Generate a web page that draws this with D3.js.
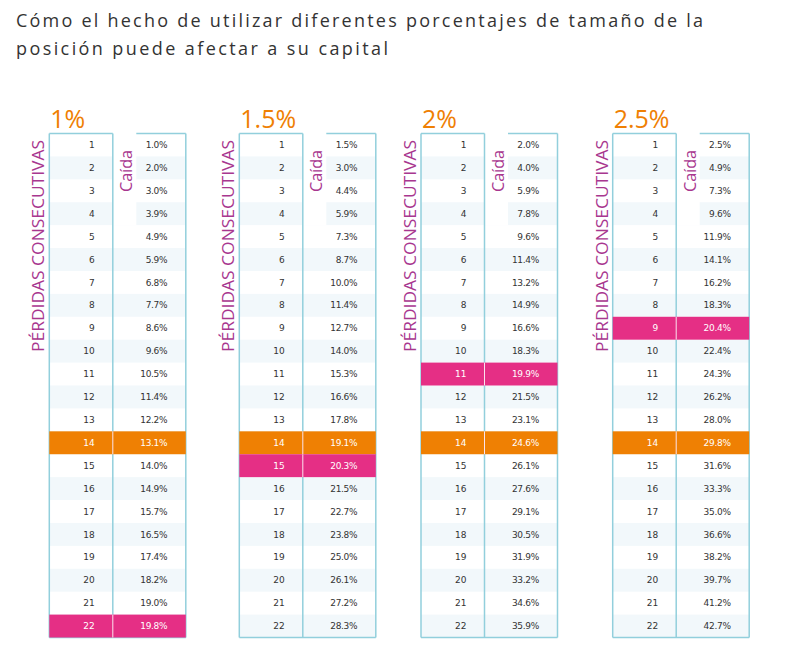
<!DOCTYPE html>
<html><head><meta charset="utf-8">
<script src="https://cdn.jsdelivr.net/npm/d3@7"></script>
<style>
html,body{margin:0;padding:0;background:#fff;}
svg{display:block;}
</style></head>
<body>
<script>
// ---- data ----
const titleLines = ["Cómo el hecho de utilizar diferentes porcentajes de tamaño de la", "posición puede afectar a su capital"];
const positionSizes = ["1%", "1.5%", "2%", "2.5%"];
const consecutiveLosses = [1,2,3,4,5,6,7,8,9,10,11,12,13,14,15,16,17,18,19,20,21,22];
const drawdown1 = [1.0,2.0,3.0,3.9,4.9,5.9,6.8,7.7,8.6,9.6,10.5,11.4,12.2,13.1,14.0,14.9,15.7,16.5,17.4,18.2,19.0,19.8];
const drawdown15 = [1.5,3.0,4.4,5.9,7.3,8.7,10.0,11.4,12.7,14.0,15.3,16.6,17.8,19.1,20.3,21.5,22.7,23.8,25.0,26.1,27.2,28.3];
const drawdown2 = [2.0,4.0,5.9,7.8,9.6,11.4,13.2,14.9,16.6,18.3,19.9,21.5,23.1,24.6,26.1,27.6,29.1,30.5,31.9,33.2,34.6,35.9];
const drawdown25 = [2.5,4.9,7.3,9.6,11.9,14.1,16.2,18.3,20.4,22.4,24.3,26.2,28.0,29.8,31.6,33.3,35.0,36.6,38.2,39.7,41.2,42.7];
const drawdowns = [drawdown1, drawdown15, drawdown2, drawdown25];
const orangeRows = [14, 14, 14, 14];
const pinkRows = [22, 15, 11, 9];
const rowLabel = "PÉRDIDAS CONSECUTIVAS";
const colLabel = "Caída";

// ---- styles ----
const W = 799, H = 658;
const borderColor = "#92cfdc";
const altFill = "#f2f8fb";
const orange = "#ef8003";
const pink = "#e52f85";
const purple = "#a8378f";
const textColor = "#333";

const svg = d3.select("body").append("svg").attr("width", W).attr("height", H);

// title
const title = svg.append("g");
titleLines.forEach((t, i) => {
  title.append("text")
    .attr("x", 16).attr("y", 27 + i * 28)
    .attr("font-family", "Open Sans, sans-serif")
    .attr("font-size", 18)
    .attr("fill", textColor)
    .attr("textLength", i === 0 ? 687 : 372)
    .attr("lengthAdjust", "spacing")
    .text(t);
});

const tableX = d3.scaleOrdinal().domain(positionSizes).range([49.3, 239.3, 421, 612.7]);
const rowY = d3.scaleBand().domain(consecutiveLosses).range([133.5, 637.5]);
const tableW = 136.5, divX = 63.5, gapEnd = 87;
const fmt = d3.format(".1f");

positionSizes.forEach((size, ti) => {
  const x0 = tableX(size);
  const g = svg.append("g").attr("transform", `translate(${x0},0)`);
  const rows = consecutiveLosses.map((n, i) => ({n, v: drawdowns[ti][i]}));
  const top = rowY.range()[0], bottom = rowY.range()[1];

  // header
  g.append("text").attr("x", 1).attr("y", 128)
    .attr("font-family", "Open Sans, sans-serif").attr("font-size", 25)
    .attr("fill", orange).text(size);

  // alternating backgrounds
  g.selectAll("rect.bg").data(rows.filter(d => d.n % 2 === 0)).join("rect")
    .attr("x", 0).attr("y", d => rowY(d.n)).attr("width", tableW).attr("height", rowY.bandwidth())
    .attr("fill", altFill);

  // white area under "Caída"
  g.append("rect").attr("x", divX).attr("y", top - 2).attr("width", gapEnd - divX)
    .attr("height", rowY(5) - top + 2).attr("fill", "#fff");

  // borders
  const bw = 1.5;
  const line = (x1, y1, x2, y2) => g.append("line").attr("x1", x1).attr("y1", y1).attr("x2", x2).attr("y2", y2)
    .attr("stroke", borderColor).attr("stroke-width", bw);
  line(0, top, 0, bottom);
  line(tableW, top, tableW, bottom);
  line(divX, top, divX, bottom);
  line(0, bottom, tableW, bottom);
  line(0, top, divX, top);
  line(gapEnd, top, tableW, top);

  // highlights
  const hl = [{n: orangeRows[ti], c: orange}, {n: pinkRows[ti], c: pink}];
  hl.forEach(h => {
    g.append("rect").attr("x", 0).attr("y", rowY(h.n)).attr("width", tableW).attr("height", rowY.bandwidth())
      .attr("fill", h.c);
    g.append("line").attr("x1", divX).attr("x2", divX).attr("y1", rowY(h.n)).attr("y2", rowY(h.n) + rowY.bandwidth())
      .attr("stroke", "#fbe3ee").attr("stroke-width", 1);
  });
  const hlSet = new Set(hl.map(h => h.n));

  // row texts
  g.selectAll("text.n").data(rows).join("text")
    .attr("x", 45.5).attr("y", d => rowY(d.n) + rowY.bandwidth() / 2)
    .attr("dy", "0.35em").attr("text-anchor", "end")
    .attr("font-family", "DejaVu Sans, sans-serif").attr("font-size", 9)
    .attr("fill", d => hlSet.has(d.n) ? "#fff" : textColor)
    .text(d => d.n);
  g.selectAll("text.v").data(rows).join("text")
    .attr("x", 118).attr("y", d => rowY(d.n) + rowY.bandwidth() / 2)
    .attr("dy", "0.35em").attr("text-anchor", "end")
    .attr("font-family", "DejaVu Sans, sans-serif").attr("font-size", 9)
    .attr("letter-spacing", -0.3)
    .attr("fill", d => hlSet.has(d.n) ? "#fff" : textColor)
    .text(d => fmt(d.v) + "%");

  // rotated labels
  g.append("text").attr("transform", `translate(-11,246) rotate(-90)`)
    .attr("text-anchor", "middle").attr("dy", "0.35em")
    .attr("font-family", "Open Sans, sans-serif").attr("font-size", 17)
    .attr("fill", purple)
    .attr("textLength", 212).attr("lengthAdjust", "spacingAndGlyphs")
    .text(rowLabel);
  g.append("text").attr("transform", `translate(${divX + 14},171) rotate(-90)`)
    .attr("text-anchor", "middle").attr("dy", "0.35em")
    .attr("font-family", "Open Sans, sans-serif").attr("font-size", 16)
    .attr("fill", purple)
    .attr("textLength", 42).attr("lengthAdjust", "spacingAndGlyphs")
    .text(colLabel);
});
</script>
</body></html>
